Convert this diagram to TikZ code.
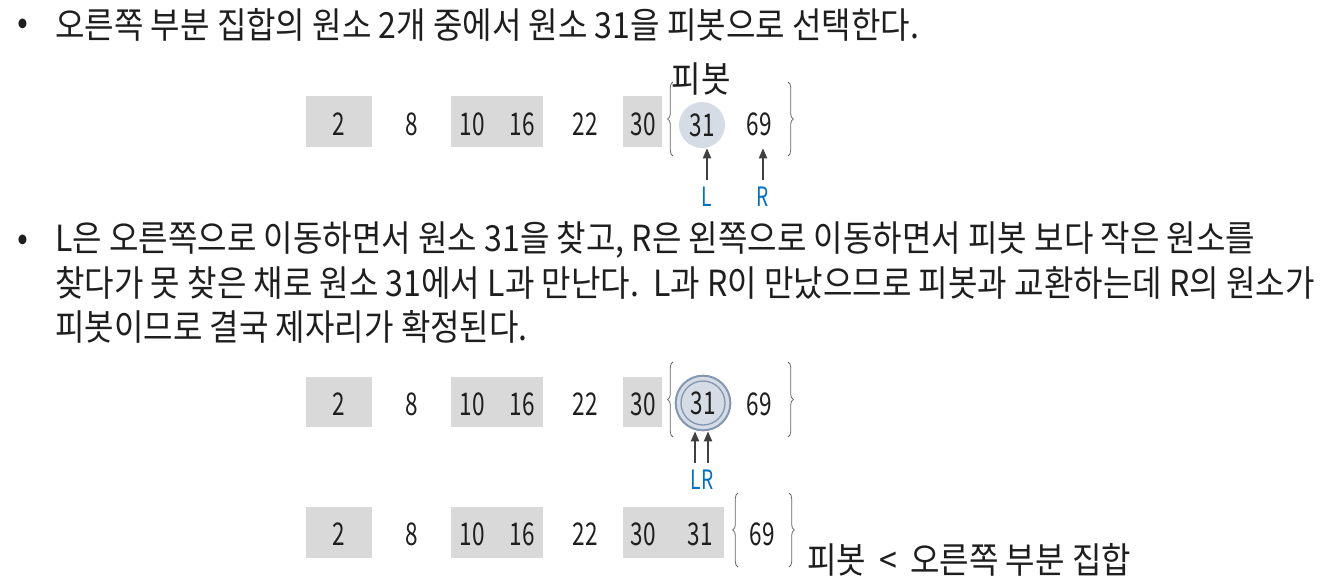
\documentclass[tikz,border=0pt]{standalone}
\usepackage{fontspec}
\setmainfont{Noto Sans CJK KR}[FakeStretch=0.89]
\newfontfamily\numfont{Noto Sans CJK KR}[FakeStretch=0.72]
\usepackage{tikz}
\usetikzlibrary{arrows.meta,decorations.pathreplacing,positioning}
\definecolor{txtcol}{RGB}{30,30,30}
\definecolor{boxgray}{RGB}{217,217,217}
\definecolor{pivfill}{RGB}{214,220,229}
\definecolor{pivline}{RGB}{132,151,176}
\definecolor{ptrblue}{RGB}{0,112,192}
\definecolor{ptrgray}{RGB}{64,64,64}
\definecolor{brcgray}{RGB}{100,100,100}

\begin{document}
\begin{tikzpicture}[x=0.75pt,y=0.75pt,yscale=-1,xscale=1,
    sent/.style={anchor=west,inner sep=0pt,text=txtcol,font=\fontsize{27}{31}\selectfont},
    num/.style={inner sep=0pt,text=txtcol,font=\numfont\fontsize{23.5}{27}\selectfont},
    ptrlbl/.style={inner sep=0pt,text=ptrblue,font=\numfont\fontsize{20}{24}\selectfont},
    ptr/.style={draw=ptrgray,line width=1.5pt,-{Triangle[length=7.5pt,width=6pt]}},
    brc/.style={draw=brcgray,line width=0.6pt,decorate,decoration={brace,amplitude=4pt}}]
    \path[use as bounding box] (0,0) rectangle (1326,583);

    % Text Node
    \draw (17,27) node [sent] (b1) {•};
    \draw (55,25) node [sent] (t1) {오른쪽 부분 집합의 원소 2개 중에서 원소 31을 피봇으로 선택한다.};
    % Text Node
    \draw (17,243) node [sent] (b2) {•};
    \draw (55,240) node [sent] (t2) {L은 오른쪽으로 이동하면서 원소 31을 찾고, R은 왼쪽으로 이동하면서 피봇 보다 작은 원소를};
    \draw (55,283) node [sent] (t3) {찾다가 못 찾은 채로 원소 31에서 L과 만난다.\ \ L과 R이 만났으므로 피봇과 교환하는데 R의 원소가};
    \draw (55,327) node [sent] (t4) {피봇이므로 결국 제자리가 확정된다.};

    %Row 1
    \fill [boxgray] (306,96) rectangle (372,147);
    \fill [boxgray] (451,96) rectangle (543,147);
    \fill [boxgray] (623,96) rectangle (662,147);
    \node [circle,fill=pivfill,inner sep=0pt,minimum size=34.5pt] (p1) at (702,125) {};
    \node [num] (a2) at (339,124) {2};
    \node [num] (a8) at (412,124) {8};
    \node [num] (a10) at (472,124) {10};
    \node [num] (a16) at (522,124) {16};
    \node [num] (a22) at (585,124) {22};
    \node [num] (a30) at (643,124) {30};
    \node [num] (a31) at (p1) {31};
    \node [num] (a69) at (759,124) {69};
    \draw [brc] (673,156) -- (673,82);
    \draw [brc] (788,82) -- (788,156);
    \node [sent,anchor=center] (piv1) at (701,79) {피봇};
    \node [ptrlbl] (L1) at (707,197) {L};
    \node [ptrlbl] (R1) at (763,197) {R};
    \draw [ptr,shorten <=5pt] (L1.north) -- (L1.north |- p1.south);
    \draw [ptr,shorten <=5pt] (R1.north) -- (R1.north |- p1.south);

    %Row 2
    \fill [boxgray] (306,377) rectangle (372,427);
    \fill [boxgray] (451,377) rectangle (543,427);
    \fill [boxgray] (623,377) rectangle (662,427);
    \node [circle,fill=pivfill,draw=pivline,line width=1.5pt,inner sep=0pt,minimum size=41pt] (p2) at (703,403) {};
    \node [circle,draw=pivline,line width=1pt,inner sep=0pt,minimum size=33pt] (p2in) at (p2) {};
    \node [num] (b2n) at (339,404) {2};
    \node [num] (b8) at (412,404) {8};
    \node [num] (b10) at (472,404) {10};
    \node [num] (b16) at (522,404) {16};
    \node [num] (b22) at (585,404) {22};
    \node [num] (b30) at (643,404) {30};
    \node [num] (b31) at (p2) {31};
    \node [num] (b69) at (759,404) {69};
    \draw [brc] (673,437) -- (673,362);
    \draw [brc] (788,362) -- (788,437);
    \node [ptrlbl] (LR2) at (702,480) {LR};
    \coordinate (l2) at (695,463);
    \coordinate (r2) at (708,463);
    \draw [ptr] (l2) -- (l2 |- p2.south);
    \draw [ptr] (r2) -- (r2 |- p2.south);

    %Row 3
    \fill [boxgray] (306,507) rectangle (372,558);
    \fill [boxgray] (451,507) rectangle (543,558);
    \fill [boxgray] (623,507) rectangle (724,558);
    \node [num] (c2) at (339,534) {2};
    \node [num] (c8) at (412,534) {8};
    \node [num] (c10) at (472,534) {10};
    \node [num] (c16) at (522,534) {16};
    \node [num] (c22) at (585,534) {22};
    \node [num] (c30) at (643,534) {30};
    \node [num] (c31) at (700,534) {31};
    \node [num] (c69) at (762,534) {69};
    \draw [brc] (738,567) -- (738,493);
    \draw [brc] (789,493) -- (789,567);
    % Text Node
    \draw (807,560) node [sent] (t5) {피봇 \,<\, 오른쪽 부분 집합};

\end{tikzpicture}
\end{document}
